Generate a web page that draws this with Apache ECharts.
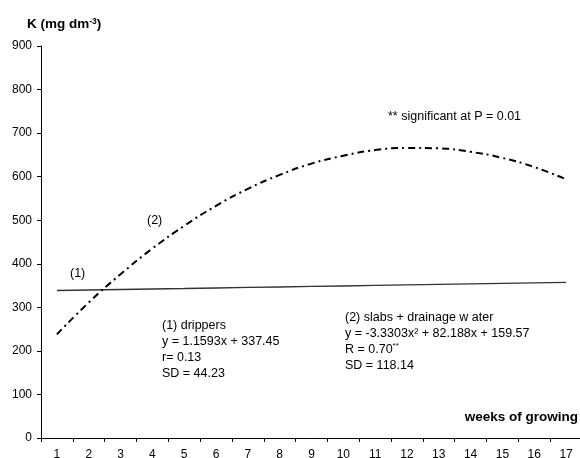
<!DOCTYPE html>
<html><head><meta charset="utf-8">
<script src="https://cdn.jsdelivr.net/npm/echarts@6/dist/echarts.min.js"></script>
<style>html,body{margin:0;padding:0;background:#fff}#c{width:580px;height:458px}</style>
</head><body><div id="c"></div>
<script>
const weeks = ['1','2','3','4','5','6','7','8','9','10','11','12','13','14','15','16','17'];
const drippers = [338.6,339.8,341.0,342.1,343.2,344.4,345.6,346.7,347.9,349.0,350.2,351.4,352.5,353.7,354.8,356.0,357.2];
const slabs = [238,311,376,435,487,533,572,604,630,648,661,666,665,657,643,622,594];
const yTicks = [0,100,200,300,400,500,600,700,800,900];

const F = 'Liberation Sans, Arial, sans-serif';
const chart = echarts.init(document.getElementById('c'), null, {renderer:'canvas'});
chart.setOption({
  animation:false,
  backgroundColor:'#fff',
  grid:{left:41, right:-2, top:46, bottom:20, containLabel:false, outerBoundsMode:'none'},
  xAxis:{type:'category', data:weeks, boundaryGap:true,
    axisLine:{lineStyle:{color:'#000', width:1}},
    axisTick:{show:true, length:4, lineStyle:{color:'#000'}},
    axisLabel:{color:'#000', fontFamily:F, fontSize:12, margin:11},
    splitLine:{show:false}},
  yAxis:{type:'value', min:yTicks[0], max:yTicks[yTicks.length-1], interval:100,
    axisLine:{show:true, lineStyle:{color:'#000', width:1}},
    axisTick:{show:true, length:4, lineStyle:{color:'#000'}},
    axisLabel:{color:'#000', fontFamily:F, fontSize:12, margin:9},
    splitLine:{show:false}},
  series:[
    {name:'(1) drippers', type:'line', data:drippers, symbol:'none',
     lineStyle:{color:'#333', width:1.3}},
    {name:'(2) slabs + drainage water', type:'line', data:slabs, symbol:'none', smooth:true,
     lineStyle:{color:'#000', width:2, type:[7,4,2,4]}}
  ],
  graphic:[
    {type:'text', left:27, top:17, style:{rich:{
      b:{fontFamily:F, fontSize:13.5, fontWeight:'bold', fill:'#000'},
      s:{fontFamily:F, fontSize:8.5, fontWeight:'bold', fill:'#000', verticalAlign:'top', padding:[0,0,6,0]}},
      text:'{b|K (mg dm}{s|-3}{b|)}'}},
    {type:'text', right:2, top:410, style:{text:'weeks of growing', fontFamily:F, fontSize:13.5, fontWeight:'bold', fill:'#000'}},
    {type:'text', left:70, top:267, style:{text:'(1)', fontFamily:F, fontSize:12.5, fill:'#000'}},
    {type:'text', left:147, top:214, style:{text:'(2)', fontFamily:F, fontSize:12.5, fill:'#000'}},
    {type:'text', left:388, top:110, style:{text:'** significant at P = 0.01', fontFamily:F, fontSize:12.5, fill:'#000'}},
    {type:'text', left:162, top:318, style:{text:'(1) drippers\ny = 1.1593x + 337.45\nr= 0.13\nSD = 44.23', fontFamily:F, fontSize:12.5, lineHeight:16, fill:'#000'}},
    {type:'text', left:345, top:311, style:{rich:{
      n:{fontFamily:F, fontSize:12.5, fill:'#000', lineHeight:16},
      s:{fontFamily:F, fontSize:8, fill:'#000', lineHeight:16, verticalAlign:'top'}},
      text:'{n|(2) slabs + drainage w ater}\n{n|y = -3.3303x² + 82.188x + 159.57}\n{n|R = 0.70}{s|**}\n{n|SD = 118.14}'}}
  ]
});
</script></body></html>
